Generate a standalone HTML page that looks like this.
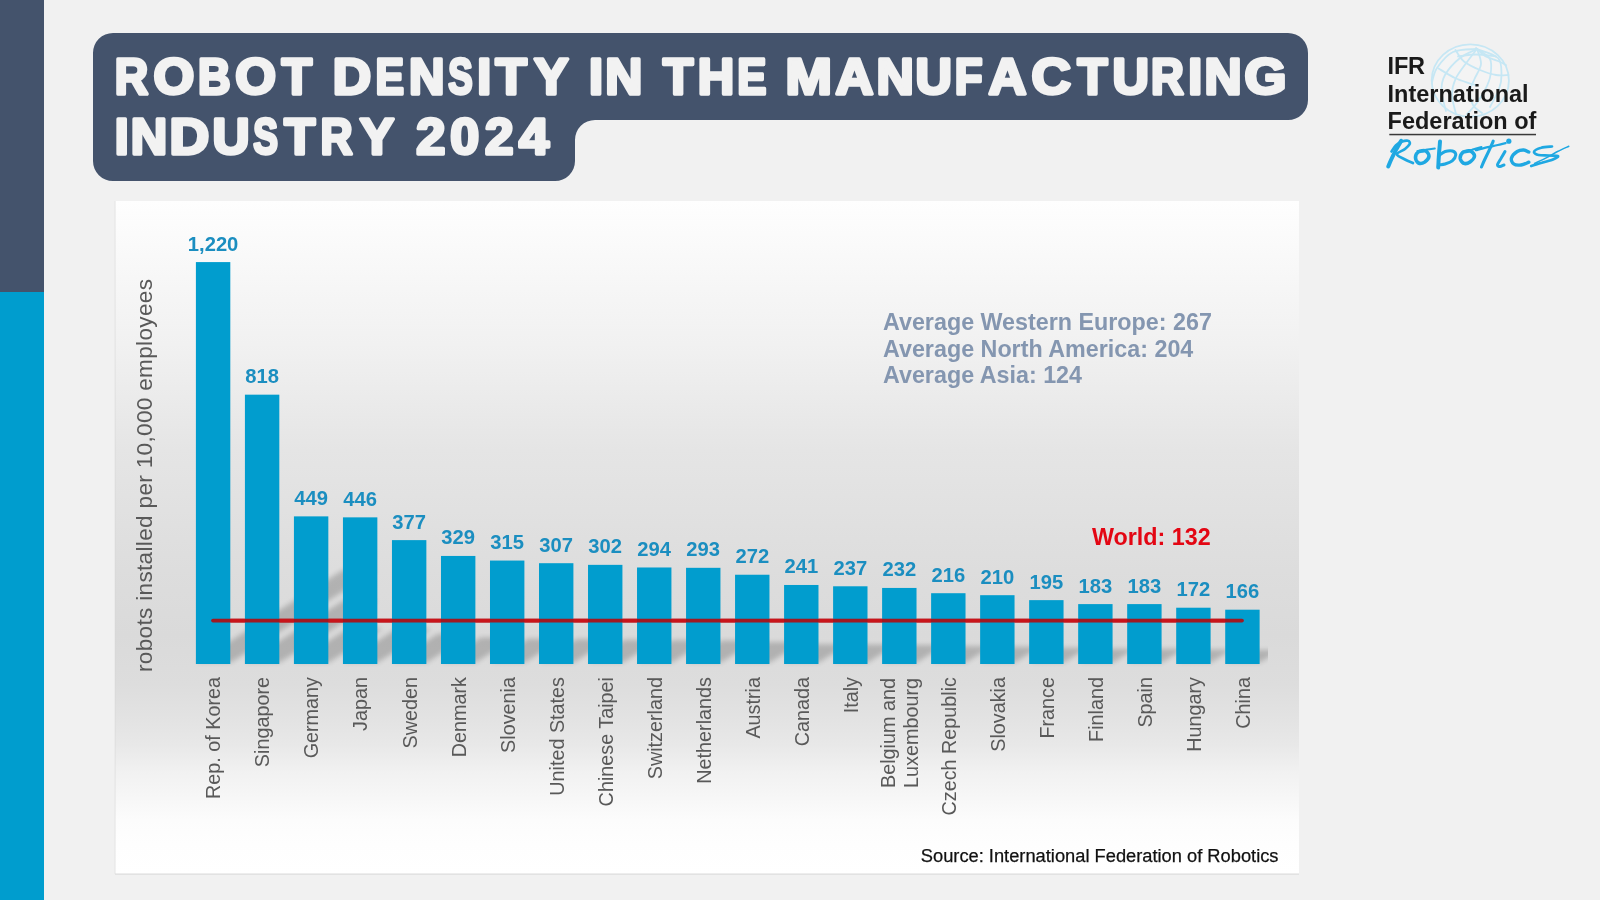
<!DOCTYPE html>
<html><head><meta charset="utf-8"><title>Robot Density in the Manufacturing Industry 2024</title>
<style>
html,body{margin:0;padding:0;background:#f1f1f1;}
body{width:1600px;height:900px;overflow:hidden;font-family:"Liberation Sans",sans-serif;}
svg{display:block;position:absolute;left:0;top:0;will-change:transform;}
svg text{font-family:"Liberation Sans",sans-serif;}
.ttl text{font-weight:700;font-size:50.29px;fill:#f2f2f2;stroke:#f2f2f2;stroke-width:3.40px;stroke-linejoin:round;}
.val{font-weight:700;font-size:20.2px;fill:#1b8ec0;text-anchor:middle;}
.cat{font-size:19.8px;fill:#595959;text-anchor:end;}
.avg{font-weight:700;font-size:23.3px;fill:#8496b0;}
</style></head><body>
<svg width="1600" height="900" viewBox="0 0 1600 900">
<defs>
<linearGradient id="pg" x1="0" y1="0" x2="0" y2="1">
<stop offset="0" stop-color="#fefefe"/>
<stop offset="0.2125" stop-color="#f1f1f1"/>
<stop offset="0.37" stop-color="#e5e5e5"/>
<stop offset="0.548" stop-color="#dddddd"/>
<stop offset="0.645" stop-color="#dadada"/>
<stop offset="0.719" stop-color="#dddddd"/>
<stop offset="0.771" stop-color="#e3e3e3"/>
<stop offset="0.808" stop-color="#e8e8e8"/>
<stop offset="0.848" stop-color="#f1f1f1"/>
<stop offset="0.875" stop-color="#f5f5f5"/>
<stop offset="0.92" stop-color="#fcfcfc"/>
<stop offset="0.955" stop-color="#fefefe"/>
<stop offset="1" stop-color="#ffffff"/>
</linearGradient>
<filter id="sh" x="-5%" y="-50%" width="110%" height="200%"><feGaussianBlur stdDeviation="2.8"/></filter>
</defs>
<rect width="1600" height="900" fill="#f1f1f1"/>
<rect x="0" y="0" width="44" height="292" fill="#44536c"/>
<rect x="0" y="292" width="44" height="608" fill="#009dce"/>
<path d="M113,33 H1288 A20,20 0 0 1 1308,53 V100 A20,20 0 0 1 1288,120 H595 A20,20 0 0 0 575,140 V161 A20,20 0 0 1 555,181 H113 A20,20 0 0 1 93,161 V53 A20,20 0 0 1 113,33 Z" fill="#44536c"/>
<g class="ttl">
<text transform="translate(114.77,93.50) scale(0.9201,1)">R</text>
<text transform="translate(153.42,93.50) scale(1.0432,1)">O</text>
<text transform="translate(197.91,93.50) scale(0.8981,1)">B</text>
<text transform="translate(235.22,93.50) scale(1.0432,1)">O</text>
<text transform="translate(281.72,93.50) scale(0.9844,1)">T</text>
<text transform="translate(332.64,93.50) scale(1.0572,1)">D</text>
<text transform="translate(375.48,93.50) scale(0.8509,1)">E</text>
<text transform="translate(408.97,93.50) scale(0.9768,1)">N</text>
<text transform="translate(448.28,93.50) scale(0.7277,1)">S</text>
<text transform="translate(477.14,93.50) scale(0.9959,1)">I</text>
<text transform="translate(495.56,93.50) scale(1.0208,1)">T</text>
<text transform="translate(533.96,93.50) scale(1.0291,1)">Y</text>
<text transform="translate(588.93,93.50) scale(1.0053,1)">I</text>
<text transform="translate(605.20,93.50) scale(1.0223,1)">N</text>
<text transform="translate(663.02,93.50) scale(0.9844,1)">T</text>
<text transform="translate(697.73,93.50) scale(1.0041,1)">H</text>
<text transform="translate(737.35,93.50) scale(0.8698,1)">E</text>
<text transform="translate(785.46,93.50) scale(1.1072,1)">M</text>
<text transform="translate(835.47,93.50) scale(1.0447,1)">A</text>
<text transform="translate(876.39,93.50) scale(1.0253,1)">N</text>
<text transform="translate(915.58,93.50) scale(1.0021,1)">U</text>
<text transform="translate(954.79,93.50) scale(0.9061,1)">F</text>
<text transform="translate(988.57,93.50) scale(1.0447,1)">A</text>
<text transform="translate(1031.51,93.50) scale(1.0860,1)">C</text>
<text transform="translate(1077.41,93.50) scale(0.9753,1)">T</text>
<text transform="translate(1112.48,93.50) scale(1.0021,1)">U</text>
<text transform="translate(1151.00,93.50) scale(0.9031,1)">R</text>
<text transform="translate(1188.34,93.50) scale(0.9959,1)">I</text>
<text transform="translate(1204.60,93.50) scale(1.0223,1)">N</text>
<text transform="translate(1244.61,93.50) scale(1.0713,1)">G</text>
<text transform="translate(114.64,154.00) scale(0.9959,1)">I</text>
<text transform="translate(130.83,154.00) scale(1.0041,1)">N</text>
<text transform="translate(169.48,154.00) scale(1.0951,1)">D</text>
<text transform="translate(212.45,154.00) scale(1.0200,1)">U</text>
<text transform="translate(253.29,154.00) scale(0.7366,1)">S</text>
<text transform="translate(284.24,154.00) scale(1.0056,1)">T</text>
<text transform="translate(320.43,154.00) scale(0.8833,1)">R</text>
<text transform="translate(359.66,154.00) scale(1.0263,1)">Y</text>
<text transform="translate(416.25,154.00) scale(1.0394,1)">2</text>
<text transform="translate(450.30,154.00) scale(1.0323,1)">0</text>
<text transform="translate(484.96,154.00) scale(1.0177,1)">2</text>
<text transform="translate(519.11,154.00) scale(1.0713,1)">4</text>
</g>
<rect x="115" y="201" width="1184" height="673" fill="url(#pg)"/>
<rect x="114.6" y="201" width="1" height="673" fill="#d6d6d6" opacity="0.55"/>
<rect x="115" y="873.5" width="1184" height="1.2" fill="#dcdcdc"/>
<clipPath id="shc"><rect x="115" y="201" width="1153" height="673"/></clipPath>
<g clip-path="url(#shc)"><g filter="url(#sh)" fill="#000" opacity="0.19" transform="translate(0.5,-1.5)">
<path d="M195.9,664.0 L230.3,664.0 L376.6,571.6 L342.2,571.6 Z"/>
<path d="M244.9,664.0 L279.3,664.0 L377.3,602.1 L342.9,602.1 Z"/>
<path d="M293.9,664.0 L328.3,664.0 L382.1,630.0 L347.7,630.0 Z"/>
<path d="M342.9,664.0 L377.3,664.0 L430.7,630.3 L396.3,630.3 Z"/>
<path d="M392.0,664.0 L426.4,664.0 L471.5,635.5 L437.1,635.5 Z"/>
<path d="M441.0,664.0 L475.4,664.0 L514.7,639.1 L480.3,639.1 Z"/>
<path d="M490.0,664.0 L524.4,664.0 L562.0,640.2 L527.6,640.2 Z"/>
<path d="M539.0,664.0 L573.4,664.0 L610.1,640.8 L575.7,640.8 Z"/>
<path d="M588.0,664.0 L622.4,664.0 L658.5,641.2 L624.1,641.2 Z"/>
<path d="M637.0,664.0 L671.4,664.0 L706.6,641.8 L672.2,641.8 Z"/>
<path d="M686.0,664.0 L720.4,664.0 L755.5,641.9 L721.1,641.9 Z"/>
<path d="M735.1,664.0 L769.5,664.0 L802.0,643.5 L767.6,643.5 Z"/>
<path d="M784.1,664.0 L818.5,664.0 L847.2,645.8 L812.8,645.8 Z"/>
<path d="M833.1,664.0 L867.5,664.0 L895.8,646.1 L861.4,646.1 Z"/>
<path d="M882.1,664.0 L916.5,664.0 L944.2,646.5 L909.8,646.5 Z"/>
<path d="M931.1,664.0 L965.5,664.0 L991.3,647.7 L956.9,647.7 Z"/>
<path d="M980.1,664.0 L1014.5,664.0 L1039.6,648.2 L1005.2,648.2 Z"/>
<path d="M1029.2,664.0 L1063.6,664.0 L1086.8,649.3 L1052.4,649.3 Z"/>
<path d="M1078.2,664.0 L1112.6,664.0 L1134.4,650.2 L1100.0,650.2 Z"/>
<path d="M1127.2,664.0 L1161.6,664.0 L1183.4,650.2 L1149.0,650.2 Z"/>
<path d="M1176.2,664.0 L1210.6,664.0 L1231.1,651.1 L1196.7,651.1 Z"/>
<path d="M1225.2,664.0 L1259.6,664.0 L1279.4,651.5 L1245.0,651.5 Z"/>
</g></g>
<g fill="#019dce">
<rect x="195.90" y="262.09" width="34.4" height="401.91"/>
<rect x="244.92" y="394.67" width="34.4" height="269.33"/>
<rect x="293.93" y="516.37" width="34.4" height="147.63"/>
<rect x="342.95" y="517.36" width="34.4" height="146.64"/>
<rect x="391.96" y="540.12" width="34.4" height="123.88"/>
<rect x="440.98" y="555.95" width="34.4" height="108.05"/>
<rect x="489.99" y="560.56" width="34.4" height="103.44"/>
<rect x="539.00" y="563.20" width="34.4" height="100.80"/>
<rect x="588.02" y="564.85" width="34.4" height="99.15"/>
<rect x="637.03" y="567.49" width="34.4" height="96.51"/>
<rect x="686.05" y="567.82" width="34.4" height="96.18"/>
<rect x="735.06" y="574.74" width="34.4" height="89.26"/>
<rect x="784.08" y="584.97" width="34.4" height="79.03"/>
<rect x="833.10" y="586.29" width="34.4" height="77.71"/>
<rect x="882.11" y="587.94" width="34.4" height="76.06"/>
<rect x="931.12" y="593.21" width="34.4" height="70.79"/>
<rect x="980.14" y="595.19" width="34.4" height="68.81"/>
<rect x="1029.15" y="600.14" width="34.4" height="63.86"/>
<rect x="1078.17" y="604.10" width="34.4" height="59.90"/>
<rect x="1127.18" y="604.10" width="34.4" height="59.90"/>
<rect x="1176.20" y="607.72" width="34.4" height="56.28"/>
<rect x="1225.22" y="609.70" width="34.4" height="54.30"/>
</g>
<line x1="213" y1="620.6" x2="1242" y2="620.6" stroke="#a01922" stroke-width="3.7" stroke-linecap="round"/>
<rect x="230.30" y="618.75" width="14.62" height="3.7" fill="#c9141a"/>
<rect x="279.31" y="618.75" width="14.62" height="3.7" fill="#c9141a"/>
<rect x="328.33" y="618.75" width="14.62" height="3.7" fill="#c9141a"/>
<rect x="377.35" y="618.75" width="14.62" height="3.7" fill="#c9141a"/>
<rect x="426.36" y="618.75" width="14.62" height="3.7" fill="#c9141a"/>
<rect x="475.38" y="618.75" width="14.62" height="3.7" fill="#c9141a"/>
<rect x="524.39" y="618.75" width="14.62" height="3.7" fill="#c9141a"/>
<rect x="573.40" y="618.75" width="14.62" height="3.7" fill="#c9141a"/>
<rect x="622.42" y="618.75" width="14.62" height="3.7" fill="#c9141a"/>
<rect x="671.43" y="618.75" width="14.62" height="3.7" fill="#c9141a"/>
<rect x="720.45" y="618.75" width="14.62" height="3.7" fill="#c9141a"/>
<rect x="769.46" y="618.75" width="14.62" height="3.7" fill="#c9141a"/>
<rect x="818.48" y="618.75" width="14.62" height="3.7" fill="#c9141a"/>
<rect x="867.50" y="618.75" width="14.62" height="3.7" fill="#c9141a"/>
<rect x="916.51" y="618.75" width="14.62" height="3.7" fill="#c9141a"/>
<rect x="965.52" y="618.75" width="14.62" height="3.7" fill="#c9141a"/>
<rect x="1014.54" y="618.75" width="14.62" height="3.7" fill="#c9141a"/>
<rect x="1063.56" y="618.75" width="14.62" height="3.7" fill="#c9141a"/>
<rect x="1112.57" y="618.75" width="14.61" height="3.7" fill="#c9141a"/>
<rect x="1161.59" y="618.75" width="14.62" height="3.7" fill="#c9141a"/>
<rect x="1210.60" y="618.75" width="14.62" height="3.7" fill="#c9141a"/>
<g class="val">
<text x="213.1" y="250.5">1,220</text>
<text x="262.1" y="383.1">818</text>
<text x="311.1" y="504.8">449</text>
<text x="360.1" y="505.8">446</text>
<text x="409.2" y="528.5">377</text>
<text x="458.2" y="544.3">329</text>
<text x="507.2" y="549.0">315</text>
<text x="556.2" y="551.6">307</text>
<text x="605.2" y="553.3">302</text>
<text x="654.2" y="555.9">294</text>
<text x="703.2" y="556.2">293</text>
<text x="752.3" y="563.1">272</text>
<text x="801.3" y="573.4">241</text>
<text x="850.3" y="574.7">237</text>
<text x="899.3" y="576.3">232</text>
<text x="948.3" y="581.6">216</text>
<text x="997.3" y="583.6">210</text>
<text x="1046.4" y="588.5">195</text>
<text x="1095.4" y="592.5">183</text>
<text x="1144.4" y="592.5">183</text>
<text x="1193.4" y="596.1">172</text>
<text x="1242.4" y="598.1">166</text>
</g>
<g class="cat">
<text transform="translate(220.4,677) rotate(-90)">Rep. of Korea</text>
<text transform="translate(269.4,677) rotate(-90)">Singapore</text>
<text transform="translate(318.4,677) rotate(-90)">Germany</text>
<text transform="translate(367.4,677) rotate(-90)">Japan</text>
<text transform="translate(416.5,677) rotate(-90)">Sweden</text>
<text transform="translate(465.5,677) rotate(-90)">Denmark</text>
<text transform="translate(514.5,677) rotate(-90)">Slovenia</text>
<text transform="translate(563.5,677) rotate(-90)">United States</text>
<text transform="translate(612.5,677) rotate(-90)">Chinese Taipei</text>
<text transform="translate(661.5,677) rotate(-90)">Switzerland</text>
<text transform="translate(710.5,677) rotate(-90)">Netherlands</text>
<text transform="translate(759.6,677) rotate(-90)">Austria</text>
<text transform="translate(808.6,677) rotate(-90)">Canada</text>
<text transform="translate(857.6,677) rotate(-90)">Italy</text>
<text transform="translate(895.0,678) rotate(-90)">Belgium and</text>
<text transform="translate(917.8,678) rotate(-90)">Luxembourg</text>
<text transform="translate(955.6,677) rotate(-90)">Czech Republic</text>
<text transform="translate(1004.6,677) rotate(-90)">Slovakia</text>
<text transform="translate(1053.7,677) rotate(-90)">France</text>
<text transform="translate(1102.7,677) rotate(-90)">Finland</text>
<text transform="translate(1151.7,677) rotate(-90)">Spain</text>
<text transform="translate(1200.7,677) rotate(-90)">Hungary</text>
<text transform="translate(1249.7,677) rotate(-90)">China</text>
</g>
<text transform="translate(152.3,672) rotate(-90)" font-size="22.6" textLength="393" lengthAdjust="spacing" fill="#595959">robots installed per 10,000 employees</text>
<g class="avg">
<text x="883" y="330.0">Average Western Europe: 267</text>
<text x="883" y="356.5">Average North America: 204</text>
<text x="883" y="383.1">Average Asia: 124</text>
</g>
<text x="1092" y="544.9" font-weight="700" font-size="23.3" fill="#e30613">World: 132</text>
<text x="1278.5" y="861.9" font-size="18.3" fill="#111" stroke="#111" stroke-width="0.25" text-anchor="end">Source: International Federation of Robotics</text>
<g fill="none" stroke="#c2e6f5" stroke-width="1.8" stroke-linecap="round" opacity="0.9">
<ellipse cx="1470.3" cy="80.5" rx="38.6" ry="36.2" fill="#ffffff" fill-opacity="0.22"/>
<path d="M1477.0,49.0 C1474.2,50.5 1465.3,53.7 1460.0,58.0 C1454.7,62.3 1448.1,69.5 1445.0,75.0 C1441.9,80.5 1441.3,85.0 1441.5,91.0 C1441.7,97.0 1445.2,107.7 1446.0,111.0"/>
<path d="M1477.0,49.0 C1475.3,51.2 1470.6,57.0 1467.0,62.0 C1463.4,67.0 1458.0,73.5 1455.5,79.0 C1453.0,84.5 1451.9,89.2 1452.0,95.0 C1452.1,100.8 1455.3,110.8 1456.0,114.0"/>
<path d="M1477.0,49.0 C1477.7,51.5 1481.4,59.0 1481.0,64.0 C1480.6,69.0 1476.3,74.5 1474.5,79.0 C1472.7,83.5 1470.2,86.7 1470.0,91.0 C1469.8,95.3 1471.0,101.3 1473.0,105.0 C1475.0,108.7 1480.5,111.7 1482.0,113.0"/>
<path d="M1477.0,49.0 C1479.2,50.7 1487.8,54.7 1490.0,59.0 C1492.2,63.3 1491.2,70.0 1490.5,75.0 C1489.8,80.0 1487.9,84.2 1485.5,89.0 C1483.1,93.8 1479.1,99.8 1476.0,104.0 C1472.9,108.2 1468.5,112.3 1467.0,114.0"/>
<path d="M1477.0,49.0 C1480.5,50.5 1493.9,53.7 1498.0,58.0 C1502.1,62.3 1501.3,69.8 1501.5,75.0 C1501.7,80.2 1500.9,83.7 1499.0,89.0 C1497.1,94.3 1491.5,104.0 1490.0,107.0"/>
<path d="M1477.0,49.0 C1473.0,49.5 1459.7,48.8 1453.0,52.0 C1446.3,55.2 1440.5,62.8 1437.0,68.0 C1433.5,73.2 1432.7,80.5 1431.8,83.0"/>
<path d="M1455.5,50.0 C1456.9,51.9 1459.9,58.2 1464.0,61.5 C1468.1,64.8 1474.7,67.8 1480.0,70.0 C1485.3,72.2 1491.2,74.2 1496.0,75.0 C1500.8,75.8 1506.4,75.0 1508.5,75.0"/>
<path d="M1438.5,68.5 C1441.2,70.1 1449.8,75.5 1455.0,78.0 C1460.2,80.5 1466.5,82.3 1470.0,83.5 C1473.5,84.7 1475.0,84.8 1476.0,85.0"/>
<path d="M1458.0,56.5 C1461.0,56.2 1469.7,54.5 1476.0,54.5 C1482.3,54.5 1492.7,56.2 1496.0,56.5"/>
<path d="M1476.0,48.0 C1477.5,49.3 1481.3,53.8 1485.0,56.0 C1488.7,58.2 1494.5,59.5 1498.0,61.0 C1501.5,62.5 1504.7,64.3 1506.0,65.0"/>
</g>
<g font-weight="700" font-size="23.5" fill="#1a1a1a">
<text x="1387.6" y="73.6" textLength="37.5" lengthAdjust="spacing">IFR</text>
<text x="1387.6" y="101.5">International</text>
<text x="1387.6" y="129.2">Federation of</text>
</g>
<rect x="1389.3" y="133.8" width="146.7" height="1.5" fill="#3a3a3a"/>
<g fill="none" stroke="#1fa8e2" stroke-linecap="round" stroke-linejoin="round">
<path d="M1401.2,140.8 C1400.3,142.4 1397.3,147.4 1395.6,150.6 C1393.9,153.8 1392.2,157.4 1391.0,160.0 C1389.8,162.6 1388.7,165.4 1388.2,166.5" stroke-width="4.0"/>
<path d="M1391.5,151.5 C1392.2,150.5 1394.2,146.9 1396.0,145.2 C1397.8,143.6 1400.2,142.2 1402.2,141.5 C1404.2,140.8 1406.8,140.4 1408.0,140.8 C1409.2,141.1 1410.2,142.4 1409.8,143.8 C1409.2,145.1 1407.1,147.2 1405.0,149.0 C1402.9,150.8 1396.9,152.5 1396.9,154.2 C1396.9,156.0 1402.3,158.0 1405.0,159.5 C1407.7,161.0 1411.7,162.4 1413.0,163.0" stroke-width="2.7"/>
<path d="M1424.0,150.8 C1423.0,151.0 1419.5,150.8 1418.1,152.0 C1416.7,153.2 1415.4,155.9 1415.5,157.8 C1415.6,159.6 1417.0,162.3 1418.5,163.0 C1420.0,163.7 1423.0,163.1 1424.8,162.0 C1426.5,160.9 1428.9,158.1 1429.0,156.2 C1429.1,154.4 1427.1,151.5 1425.2,150.8 C1423.4,150.0 1419.3,151.6 1418.1,151.8" stroke-width="3.6"/>
<path d="M1417.5,151.2 C1418.9,151.0 1422.8,150.2 1425.6,149.8 C1428.5,149.3 1433.2,148.7 1434.8,148.5" stroke-width="2.0"/>
<path d="M1440.0,141.5 C1439.9,143.1 1439.5,148.2 1439.2,151.2 C1439.0,154.3 1438.8,157.3 1438.6,160.0 C1438.5,162.7 1438.3,166.2 1438.2,167.5" stroke-width="4.0"/>
<path d="M1439.0,155.5 C1440.0,154.8 1443.0,152.2 1445.2,151.5 C1447.5,150.8 1450.8,150.5 1452.5,151.0 C1454.2,151.5 1455.8,153.1 1455.8,154.8 C1455.7,156.4 1454.0,159.2 1452.2,160.8 C1450.5,162.3 1447.1,163.3 1445.0,164.0 C1442.9,164.7 1440.6,164.6 1439.8,164.8" stroke-width="3.0"/>
<path d="M1469.0,150.8 C1468.0,151.0 1464.2,151.2 1462.8,152.5 C1461.3,153.8 1460.1,156.5 1460.2,158.2 C1460.4,160.0 1461.9,162.6 1463.5,163.2 C1465.1,163.9 1468.2,163.2 1470.0,162.0 C1471.8,160.8 1474.5,157.8 1474.5,156.0 C1474.5,154.2 1472.2,151.6 1470.2,151.0 C1468.3,150.4 1464.2,152.0 1463.0,152.2" stroke-width="3.6"/>
<path d="M1462.5,151.8 C1464.1,151.4 1468.7,150.5 1471.9,149.8 C1475.0,149.0 1479.9,147.5 1481.5,147.0" stroke-width="2.0"/>
<path d="M1493.2,141.2 C1492.5,142.8 1490.5,147.5 1489.0,150.6 C1487.5,153.8 1485.8,157.3 1484.5,160.0 C1483.2,162.7 1482.0,165.8 1481.5,167.0" stroke-width="3.1"/>
<path d="M1476.0,150.2 C1478.0,149.8 1484.1,148.1 1487.8,147.2 C1491.4,146.4 1494.8,145.7 1497.8,145.0 C1500.7,144.3 1504.2,143.5 1505.5,143.2" stroke-width="2.3"/>
<path d="M1505.0,151.5 C1504.4,152.6 1502.5,155.9 1501.2,158.1 C1500.0,160.3 1497.7,163.4 1497.5,164.8 C1497.3,166.1 1498.9,166.5 1500.0,166.5 C1501.1,166.5 1503.3,165.2 1504.0,165.0" stroke-width="3.0"/>
<circle cx="1508.8" cy="141.2" r="2.6" fill="#1fa8e2" stroke="none"/>
<path d="M1528.8,152.0 C1527.9,151.7 1525.7,150.1 1523.8,150.0 C1521.8,149.9 1519.3,150.2 1517.2,151.5 C1515.2,152.8 1512.1,155.9 1511.5,158.0 C1510.9,160.1 1512.2,162.8 1513.8,164.0 C1515.3,165.2 1518.5,165.3 1521.0,165.0 C1523.5,164.7 1527.5,162.7 1528.8,162.2" stroke-width="3.4"/>
<path d="M1552.0,146.5 C1550.2,146.7 1544.2,146.9 1541.2,147.8 C1538.2,148.6 1534.5,150.5 1534.0,151.8 C1533.5,153.0 1536.0,154.4 1538.5,155.0 C1541.0,155.6 1545.5,155.3 1548.8,155.5 C1552.0,155.7 1557.2,155.4 1558.0,156.0 C1558.8,156.6 1556.2,158.1 1553.5,159.2 C1550.8,160.4 1545.5,161.6 1541.8,162.8 C1538.0,163.9 1533.0,165.5 1531.2,166.0" stroke-width="2.7"/>
<path d="M1534.5,163.5 C1536.5,162.5 1542.4,159.8 1546.2,157.8 C1550.1,155.8 1553.8,153.4 1557.5,151.5 C1561.2,149.6 1566.9,147.1 1568.8,146.2" stroke-width="1.5"/>
</g>
</svg></body></html>
